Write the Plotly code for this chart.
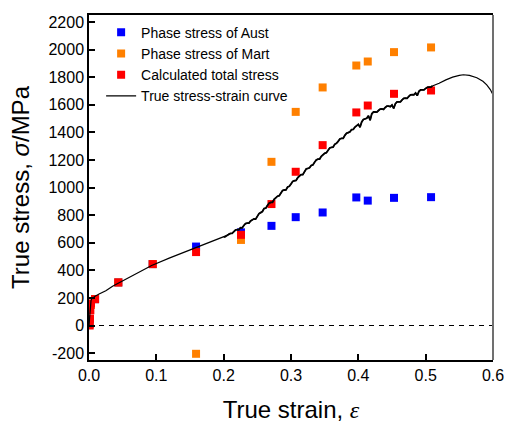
import plotly.graph_objects as go

# ---- data ----
aust_strain = [0.001, 0.003, 0.009, 0.0435, 0.0946, 0.159, 0.2257, 0.271, 0.307, 0.347, 0.397, 0.414, 0.453, 0.508]
aust_stress = [10, 150, 191, 312, 445, 572, 675, 722, 785, 819, 928, 905, 925, 930]

mart_strain = [0.001, 0.003, 0.009, 0.0435, 0.0946, 0.159, 0.2257, 0.271, 0.307, 0.347, 0.397, 0.414, 0.453, 0.508]
mart_stress = [10, 150, 191, 312, 445, -205, 620, 1186, 1548, 1725, 1884, 1913, 1981, 2015]

total_strain = [0.001, 0.0015, 0.002, 0.003, 0.009, 0.0435, 0.0946, 0.159, 0.2257, 0.271, 0.307, 0.347, 0.397, 0.414, 0.453, 0.508]
total_stress = [0, 50, 110, 160, 191, 312, 445, 532, 657, 880, 1114, 1307, 1544, 1594, 1679, 1703]

curve_strain = [0.0, 0.0005, 0.001, 0.0015, 0.002, 0.003, 0.004, 0.006, 0.009, 0.015, 0.025, 0.035, 0.0436,
                0.07, 0.093, 0.12, 0.157, 0.18, 0.19, 0.195,
                0.200, 0.2025, 0.205, 0.2075, 0.210, 0.2125, 0.215, 0.2175, 0.220, 0.2225, 0.225, 0.2275,
                0.230, 0.2325, 0.235, 0.2375, 0.240, 0.2425, 0.245, 0.2475, 0.250, 0.2525, 0.255, 0.2575,
                0.260, 0.2625, 0.265, 0.2675, 0.270, 0.2725, 0.275, 0.2775, 0.280, 0.2825, 0.285, 0.2875,
                0.290, 0.2925, 0.295, 0.2975, 0.300, 0.3025, 0.305, 0.3075, 0.310, 0.3125, 0.315, 0.3175,
                0.320, 0.3225, 0.325, 0.3275, 0.330, 0.3325, 0.335, 0.3375, 0.340, 0.3425, 0.345, 0.3475,
                0.350, 0.3525, 0.355, 0.3575, 0.360, 0.3625, 0.365, 0.3675, 0.370, 0.3725, 0.375, 0.3775,
                0.380, 0.3825, 0.385, 0.3875, 0.390, 0.3925, 0.395, 0.3975, 0.400, 0.4025, 0.405, 0.4075,
                0.410, 0.4125, 0.415, 0.4175, 0.420, 0.4225, 0.425, 0.4275, 0.430, 0.4325, 0.435, 0.4375,
                0.440, 0.4425, 0.445, 0.4475, 0.450, 0.4525, 0.455, 0.4575, 0.460, 0.4625, 0.465, 0.4675,
                0.470, 0.4725, 0.475, 0.4775, 0.480, 0.4825, 0.485, 0.4875, 0.490, 0.4925, 0.495, 0.4975,
                0.500, 0.5025, 0.505, 0.5075, 0.510,
                0.520, 0.530, 0.540, 0.550, 0.556, 0.565, 0.576, 0.585, 0.5907, 0.596, 0.600]
curve_stress = [0, 40, 90, 130, 158, 180, 193, 203, 212, 228, 252, 285, 307,
                375, 435, 490, 560, 600, 620, 630,
                640, 643, 653, 663, 667, 668, 680, 692, 695, 695, 709, 708,
                725, 739, 742, 742, 758, 769, 773, 771, 792, 811, 818, 826,
                848, 850, 870, 886, 892, 893, 915, 930, 937, 941, 960, 978,
                982, 983, 1004, 1009, 1026, 1044, 1049, 1051, 1071, 1086, 1093, 1093,
                1116, 1134, 1138, 1143, 1160, 1164, 1183, 1199, 1205, 1206, 1226, 1240,
                1248, 1252, 1270, 1287, 1291, 1293, 1313, 1320, 1334, 1352, 1356, 1356,
                1378, 1393, 1398, 1403, 1420, 1421, 1438, 1452, 1458, 1437, 1475, 1493,
                1500, 1502, 1520, 1487, 1534, 1547, 1547, 1546, 1558, 1568, 1570, 1566,
                1580, 1590, 1590, 1586, 1598, 1573, 1607, 1620, 1620, 1621, 1635, 1646,
                1648, 1646, 1660, 1672, 1673, 1672, 1685, 1666, 1697, 1707, 1708, 1707,
                1718, 1726, 1727, 1727, 1736,
                1755, 1780, 1800, 1813, 1817, 1812, 1795, 1770, 1744, 1710, 1672]

x_tickvals = [0.0, 0.1, 0.2, 0.3, 0.4, 0.5, 0.6]
x_ticktext = ["0.0", "0.1", "0.2", "0.3", "0.4", "0.5", "0.6"]
y_tickvals = [-200, 0, 200, 400, 600, 800, 1000, 1200, 1400, 1600, 1800, 2000, 2200]
y_ticktext = ["-200", "0", "200", "400", "600", "800", "1000", "1200", "1400", "1600", "1800", "2000", "2200"]

FONT = "Liberation Sans, Arial, sans-serif"

# indices of the serrated part of the curve (drawn a bit thicker)
i0 = curve_strain.index(0.200)
i1 = curve_strain.index(0.510) + 1

fig = go.Figure()
msize = 8
fig.add_trace(go.Scatter(x=aust_strain, y=aust_stress, mode="markers", name="Phase stress of Aust",
                         marker=dict(symbol="square", size=msize, color="#0000FF")))
fig.add_trace(go.Scatter(x=mart_strain, y=mart_stress, mode="markers", name="Phase stress of Mart",
                         marker=dict(symbol="square", size=msize, color="#FF8000")))
fig.add_trace(go.Scatter(x=total_strain, y=total_stress, mode="markers", name="Calculated total stress",
                         marker=dict(symbol="square", size=msize, color="#FF0000")))
fig.add_trace(go.Scatter(x=curve_strain, y=curve_stress, mode="lines", name="True stress-strain curve",
                         line=dict(color="black", width=1.2)))
fig.add_trace(go.Scatter(x=curve_strain[i0:i1], y=curve_stress[i0:i1], mode="lines", showlegend=False,
                         hoverinfo="skip", line=dict(color="black", width=1.8)))

# dashed zero line
fig.add_shape(type="line", xref="x", yref="y", x0=0, x1=0.6, y0=0, y1=0,
              line=dict(color="black", width=1, dash="5px,5px"), layer="below")
# right border (grey)
fig.add_shape(type="line", xref="paper", yref="paper", x0=1, x1=1, y0=0, y1=1,
              line=dict(color="#707070", width=2))

fig.update_layout(
    width=506, height=423,
    margin=dict(l=89, r=13, t=15, b=63, autoexpand=False),
    paper_bgcolor="white", plot_bgcolor="white",
    font=dict(family=FONT, color="black"),
    showlegend=True,
    legend=dict(x=0.03, y=0.995, xanchor="left", yanchor="top",
                font=dict(size=14, family=FONT), bgcolor="rgba(0,0,0,0)",
                tracegroupgap=0),
)
fig.update_xaxes(
    range=[0, 0.6], tickvals=x_tickvals, ticktext=x_ticktext, automargin=False,
    ticks="inside", ticklen=6, tickwidth=1.5, tickcolor="black",
    showline=True, linecolor="black", linewidth=1.5, mirror=True,
    showgrid=False, zeroline=False,
    tickfont=dict(size=16, family=FONT),
    title=dict(text="True strain, <span style=\"font-family:'Liberation Serif'\"><i>ε</i></span>",
               font=dict(size=24, family=FONT), standoff=20),
)
fig.update_yaxes(
    range=[-250, 2250], tickvals=y_tickvals, ticktext=y_ticktext, automargin=False,
    ticks="inside", ticklen=6, tickwidth=1.5, tickcolor="black",
    showline=True, linecolor="black", linewidth=1.5, mirror=False,
    showgrid=False, zeroline=False,
    tickfont=dict(size=16, family=FONT),
    title=dict(text="True stress, <i>σ</i>/MPa", font=dict(size=24, family=FONT), standoff=12),
)

fig.write_html("out.html")
